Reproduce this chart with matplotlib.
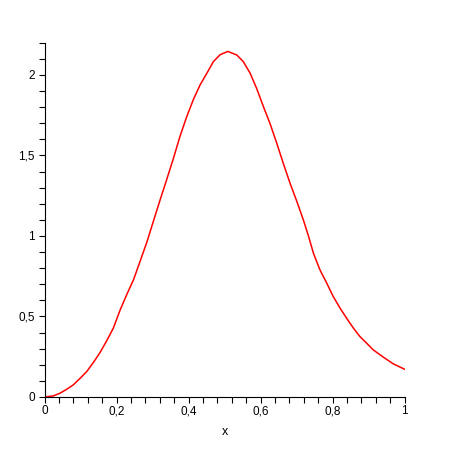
import matplotlib
matplotlib.use("Agg")
import matplotlib.pyplot as plt
from matplotlib.ticker import MultipleLocator, FuncFormatter

# curve values
x_vals = [0.0, 0.024, 0.043, 0.062, 0.080, 0.099, 0.117, 0.136, 0.154,
          0.173, 0.191, 0.210, 0.228, 0.247, 0.265, 0.284, 0.302, 0.321,
          0.339, 0.358, 0.376, 0.395, 0.413, 0.432, 0.451, 0.469, 0.488,
          0.509, 0.534, 0.552, 0.571, 0.589, 0.608, 0.626, 0.645, 0.663,
          0.682, 0.701, 0.719, 0.733, 0.747, 0.765, 0.784, 0.802, 0.821,
          0.839, 0.858, 0.876, 0.895, 0.913, 0.941, 0.969, 1.0]
y_vals = [0.0, 0.006, 0.023, 0.048, 0.075, 0.116, 0.157, 0.215, 0.275,
          0.350, 0.427, 0.540, 0.634, 0.727, 0.840, 0.960, 1.089, 1.224,
          1.348, 1.482, 1.617, 1.741, 1.845, 1.938, 2.011, 2.083, 2.126,
          2.146, 2.124, 2.083, 2.011, 1.917, 1.803, 1.700, 1.576, 1.452,
          1.327, 1.213, 1.099, 1.000, 0.892, 0.789, 0.706, 0.623, 0.551,
          0.489, 0.427, 0.375, 0.333, 0.292, 0.247, 0.205, 0.172]

plt.rcParams['font.family'] = ['Liberation Sans', 'DejaVu Sans']

fig = plt.figure(figsize=(4.5, 4.5), dpi=100)
ax = fig.add_axes([0.099, 0.118, 0.8, 0.787])

ax.plot(x_vals, y_vals, color='#ff0000', linewidth=1.1)

ax.set_xlim(0, 1)
ax.set_ylim(0, 2.2)

ax.spines['top'].set_visible(False)
ax.spines['right'].set_visible(False)
ax.spines['left'].set_linewidth(0.8)
ax.spines['bottom'].set_linewidth(0.8)

ax.xaxis.set_major_locator(MultipleLocator(0.2))
ax.xaxis.set_minor_locator(MultipleLocator(0.04))
ax.yaxis.set_major_locator(MultipleLocator(0.5))
ax.yaxis.set_minor_locator(MultipleLocator(0.1))

comma = FuncFormatter(lambda v, p: ('%g' % round(v, 2)).replace('.', ','))
ax.xaxis.set_major_formatter(comma)
ax.yaxis.set_major_formatter(comma)

ax.tick_params(which='both', direction='out', length=4, width=0.8,
               labelsize=8.5, color='black')
ax.tick_params(axis='x', which='both', pad=2)
ax.tick_params(axis='y', which='both', pad=3)

ax.set_xlabel('x', fontsize=9, labelpad=6)

fig.savefig('out.png', dpi=100)
